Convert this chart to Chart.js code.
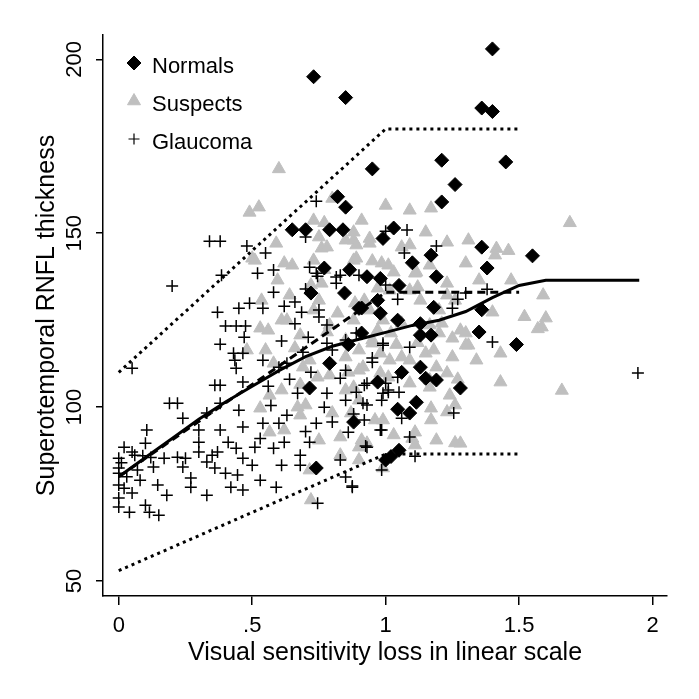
<!DOCTYPE html>
<html>
<head>
    <title>RNFL thickness vs visual sensitivity loss</title>
    <script src="https://cdn.jsdelivr.net/npm/chart.js"></script>
    <style>
        body { margin: 0; background: #fff; }
        canvas { display: block; }
    </style>
</head>
<body>
    <canvas id="chart" width="699" height="699"></canvas>

    <script>
    // tick positions and labels
    const xTickValues = [0, 0.5, 1, 1.5, 2];
    const xTickLabels = ['0', '.5', '1', '1.5', '2'];
    const yTickValues = [50, 100, 150, 200];

    // group values, [sensitivity loss, thickness]
    const normals = [
        [0.73,195],[0.85,189],[1.40,203],[1.36,186],[1.40,185],[1.45,170.5],[0.95,168.5],[1.21,171],
        [1.26,164],[1.21,159],[0.82,160.5],[0.85,157.5],[0.65,151],[0.70,151],[0.79,151],[0.84,151],
        [1.03,151.5],[0.99,148.5],[1.17,143.7],[1.10,141.5],[1.19,137.5],[0.77,140],[0.93,137.5],[1.05,135],
        [0.865,139.5],[1.36,146],[1.38,140],[1.55,143.5],[0.91,128.5],[0.98,127],[1.045,125],[1.18,128.7],
        [1.36,128],[0.91,121.3],[1.13,124],[1.13,120.7],[1.17,120.7],[1.35,121.6],[1.49,118],[1.13,111.5],
        [1.15,108.3],[1.19,107.8],[1.28,105.5],[1.045,99.4],[1.09,98.3],[1.115,101.4],[0.88,95.7],[1.05,87.6],
        [1.0,84.8],[0.97,107.2],[0.846,132.8],[0.72,132.8],[0.97,130.7],[0.90,128.4],[0.79,112.6],[0.715,105.5],
        [0.74,82.5],[1.02,85.8],[0.98,137],[1.06,110],[0.86,118]
    ];
    const suspects = [
        [0.60,168.5],[0.49,156],[0.525,157.5],[0.80,160],[0.77,153],[0.91,153.7],[1.0,158],[1.09,156.6],
        [1.17,157.2],[1.69,153],[1.415,145.6],[1.46,145],[1.47,136.5],[1.59,132.2],[1.60,125.6],[1.585,123],
        [1.43,115.5],[1.43,107.2],[1.66,104.8],[1.25,114.4],[1.34,113.5],[1.30,121.3],[1.40,127.3],[1.23,132.2],
        [1.30,141.4],[1.23,147.4],[1.06,146],[0.95,142],[1.17,99.7],[1.23,98.6],[1.26,100.6],[1.17,96.3],
        [1.19,90.5],[1.28,89.6],[1.11,92.8],[1.10,91],[0.99,82.5],[0.91,90.5],[0.90,88.5],[0.72,73.3],
        [0.715,81.9],[0.53,99.7],[0.565,92.8],[0.70,100.6],[0.67,100],[0.80,98.3],[0.87,98.3],[0.83,91.4],
        [0.93,89.6],[0.99,96.3],[0.61,104.9],[0.68,106.5],[0.59,147.1],[0.50,142.8],[0.65,140.8],[0.595,136.5],
        [0.76,145.7],[0.73,153.7],[0.88,148],[0.64,132.2],[0.53,122.7],[0.56,122.1],[0.63,125],[0.73,127.9],
        [0.78,121.6],[0.88,125],[0.95,119.3],[0.69,111.5],[0.745,108.6],[0.85,114.4],[0.90,110.6],[0.98,115.5],
        [0.48,116.4],[0.58,112.6],[1.01,108.6],[0.88,150.3],[0.94,147.1],[0.89,142.8],[0.985,141.4],[1.03,138.8],
        [1.115,138.8],[1.165,140.8],[1.23,135.6],[0.885,129.9],[0.94,127.9],[0.99,125],[0.97,122.1],[1.02,121.3],
        [1.06,124.1],[1.165,123.6],[1.20,121.3],[1.21,124.1],[1.25,119.8],[1.30,117.8],[0.90,116.4],[0.95,118.4],
        [1.015,113.5],[1.06,114.4],[1.15,115.5],[1.18,116.4],[1.19,111.5],[1.23,109.8],[0.915,111.5],[0.98,109.8],
        [1.09,106.9],[1.165,105.7],[0.88,105.7],[0.75,148.9],[0.78,146],[0.85,148],[0.89,146.6],[0.94,148.5],
        [1.09,146.6],[1.15,150.3],[0.62,141.4],[0.73,142.2],[0.77,139.5],[0.88,142.2],[1.01,140.8],[1.11,138.5],
        [0.72,135.1],[0.76,135.6],[0.97,134.2],[1.09,133.6],[1.12,134.5],[1.52,126],[1.57,122.5],[1.26,89.7],
        [0.51,142.2],[0.535,130.7],[0.61,125],[0.68,120.7],[0.55,116.4],[0.75,130.7],[0.79,123.6],[0.85,119.3],
        [0.715,113.5],[0.79,109.2],[0.85,104.9],[0.90,102],[0.96,96.3],[1.03,92],[1.11,89.1],[0.68,97.7],
        [0.62,93.4],[0.75,90.5],[0.83,86.2],[0.90,84.8],[1.13,130.7],[1.20,127.9],[1.28,122.1],[1.31,117.8],
        [1.26,130.7],[1.35,136.5],[1.41,143.7],[1.31,148],[0.92,130.7],[1.015,133.6],[1.09,113.5],[1.165,107.8],
        [1.24,103.4],[0.565,103.4],[0.66,117],[0.82,127],[0.86,110],[1.04,118],[1.12,118.5],[1.27,108]
    ];
    const glaucoma = [
        [0.05,111.2],[0.20,134.8],[0.34,147.7],[0.38,147.7],[0.48,146.3],[0.55,144.3],[0.385,137.9],[0.52,138.5],
        [0.58,139.4],[0.715,140.2],[0.74,138.5],[0.58,133],[0.37,127.3],[0.45,128.4],[0.49,129.9],[0.54,128.4],
        [0.66,130.2],[0.685,127.3],[0.40,123.3],[0.44,123.3],[0.475,123.3],[0.47,120.1],[0.38,118.1],[0.43,115.5],
        [0.465,115.5],[0.435,113.5],[0.44,111.2],[0.54,113.5],[0.36,106.3],[0.38,106.3],[0.465,107.2],[0.60,111.5],
        [0.63,112.6],[0.69,115.8],[0.71,120.1],[0.75,125.9],[0.78,123.6],[0.83,137.9],[0.75,127.9],[0.78,118.4],
        [0.80,116.4],[0.85,119.3],[0.89,121.3],[0.95,114.1],[0.99,118.4],[0.83,108.3],[0.85,110.6],[0.92,106.3],
        [1.0,106.9],[0.19,101.1],[0.22,101.1],[0.24,96.8],[0.105,93.4],[0.10,89.6],[0.02,88.5],[0.05,87.1],
        [0.06,86.2],[0.0,85.3],[0.0,82.5],[0.0,81.0],[0.0,77.6],[0.02,76.7],[0.05,75.3],[0.0,73.9],
        [0.0,71.3],[0.04,69.8],[0.10,71.8],[0.115,69.8],[0.15,68.9],[0.08,79],[0.07,81.9],[0.146,77.6],
        [0.18,74.7],[0.13,82.8],[0.17,85.3],[0.22,85.6],[0.25,85.3],[0.24,82.8],[0.27,79.6],[0.27,77.0],
        [0.33,74.7],[0.30,93.4],[0.30,89.9],[0.30,87.1],[0.33,84.2],[0.35,86.2],[0.37,87.1],[0.36,82.5],
        [0.40,81],[0.38,93.4],[0.41,89.9],[0.44,88.2],[0.465,85.3],[0.445,80.5],[0.42,77],[0.465,76.2],
        [0.50,83.3],[0.53,79],[0.59,77],[0.51,88.5],[0.53,91],[0.58,88.2],[0.62,89.9],[0.61,83.3],
        [0.68,83.3],[0.68,86.2],[0.715,89.9],[0.54,95.4],[0.60,95.4],[0.63,97.7],[0.45,99.1],[0.465,94.3],
        [0.33,98.3],[0.38,101.1],[0.83,84.8],[0.85,79.9],[0.875,77],[0.745,72.4],[0.67,104],[0.78,104],
        [0.85,102],[0.915,101.1],[0.74,95.4],[0.80,95.7],[0.92,96.3],[0.86,92.8],[0.98,93.4],[0.93,88.5],
        [0.99,104],[0.93,100.6],[0.985,102],[1.06,96.8],[0.985,93.4],[1.09,91.4],[0.925,88.8],[1.255,98.3],
        [1.11,85.9],[1.02,85.9],[0.985,81.9],[0.875,77.3],[0.89,104.3],[1.01,104.3],[1.05,104.3],[1.08,150.9],
        [1.19,146.3],[1.07,144.3],[1.0,135.1],[1.045,131],[1.27,131],[1.30,132.8],[1.38,133.9],[1.25,128.4],
        [1.09,117.2],[0.99,117.8],[1.40,118.7],[0.95,112.9],[1.045,108.6],[0.93,106.9],[1.01,104.9],[1.945,109.8],
        [0.90,137.9],[0.74,159.2],[0.70,148.9],[1.0,150.6],[0.745,137.6],[0.815,137.4],[0.815,135.6],[0.70,134],
        [0.01,84],[0.03,80],[0.09,86],[0.12,85.5],[0.56,106],[0.64,108],[0.72,110],[0.66,124],
        [0.61,119],[0.57,100.5],[0.70,93],[0.77,100],[0.88,98],[0.62,129]
    ];

    // fitted lines
    const upperX = [0, 1, 1.5];
    const upperY = [110, 180, 180];
    const lowerX = [0, 1, 1.5];
    const lowerY = [53, 86.5, 86.5];
    const brokenX = [0, 1, 1.5];
    const brokenY = [80, 133, 133];
    const smoothX = [0, 0.1, 0.2, 0.3, 0.4, 0.5, 0.6, 0.7, 0.8, 0.9, 1.0, 1.1, 1.2, 1.3, 1.4, 1.5, 1.6, 1.95];
    const smoothY = [80, 85.5, 91, 96.5, 101.5, 106, 110.5, 114.5, 117.5, 119.5, 121.5, 123.5, 125, 127.5, 131.5, 135, 136.5, 136.5];

    function pts(pairs) {
        return pairs.map(p => ({ x: p[0], y: p[1] }));
    }
    function linePts(xs, ys) {
        return xs.map((x, i) => ({ x: x, y: ys[i] }));
    }

    const FONT = '"Liberation Sans", Arial, sans-serif';

    function lineSet(label, xs, ys, dash) {
        return {
            label: label,
            data: linePts(xs, ys),
            showLine: true,
            borderColor: '#000',
            borderWidth: 3,
            borderDash: dash,
            pointRadius: 0,
            fill: false,
            tension: 0,
            order: 0,
            inLegend: false
        };
    }

    // legend drawn inside the plot, top left
    const cornerLegend = {
        id: 'cornerLegend',
        afterDraw(chart) {
            const ctx = chart.ctx;
            const area = chart.chartArea;
            ctx.save();
            ctx.font = '22px ' + FONT;
            ctx.fillStyle = '#000';
            ctx.textBaseline = 'alphabetic';
            let row = 0;
            chart.data.datasets.forEach(ds => {
                if (!ds.inLegend) return;
                const base = area.top + 38 + row * 38;
                const symX = area.left + 31;
                ctx.save();
                ctx.fillStyle = ds.pointBackgroundColor;
                ctx.strokeStyle = ds.pointBorderColor;
                ctx.lineWidth = ds.legendBorder;
                Chart.helpers.drawPoint(ctx, {
                    pointStyle: ds.pointStyle,
                    radius: ds.legendRadius,
                    rotation: 0,
                    borderWidth: ds.legendBorder
                }, symX, base - 10);
                ctx.restore();
                ctx.fillText(ds.label, area.left + 49, base);
                row++;
            });
            ctx.restore();
        }
    };

    new Chart(document.getElementById('chart').getContext('2d'), {
        type: 'scatter',
        data: {
            datasets: [
                lineSet('Upper', upperX, upperY, [3, 4]),
                lineSet('Lower', lowerX, lowerY, [3, 4]),
                lineSet('Broken stick', brokenX, brokenY, [8, 5]),
                lineSet('Smooth', smoothX, smoothY, []),
                {
                    label: 'Normals',
                    data: pts(normals),
                    pointStyle: 'rectRot',
                    pointRadius: 7,
                    pointBackgroundColor: '#000',
                    pointBorderColor: '#000',
                    pointBorderWidth: 1,
                    legendRadius: 7,
                    legendBorder: 1,
                    order: 1,
                    inLegend: true
                },
                {
                    label: 'Suspects',
                    data: pts(suspects),
                    pointStyle: 'triangle',
                    pointRadius: 7.5,
                    pointBackgroundColor: '#bfbfbf',
                    pointBorderColor: '#bfbfbf',
                    pointBorderWidth: 1,
                    legendRadius: 7.5,
                    legendBorder: 1,
                    order: 3,
                    inLegend: true
                },
                {
                    label: 'Glaucoma',
                    data: pts(glaucoma),
                    pointStyle: 'cross',
                    pointRadius: 6,
                    pointBackgroundColor: '#000',
                    pointBorderColor: '#000',
                    pointBorderWidth: 1.5,
                    legendRadius: 5.5,
                    legendBorder: 1.2,
                    order: 2,
                    inLegend: true
                }
            ]
        },
        options: {
            responsive: false,
            animation: false,
            devicePixelRatio: 1,
            layout: { padding: { top: 35, right: 32, left: 0, bottom: 0 } },
            plugins: {
                legend: { display: false },
                tooltip: { enabled: false }
            },
            elements: { point: { hoverRadius: 0 } },
            scales: {
                x: {
                    type: 'linear',
                    min: -0.059,
                    max: 2.054,
                    afterBuildTicks: s => { s.ticks = xTickValues.map(v => ({ value: v })); },
                    afterFit: s => { s.height = 103; },
                    border: { display: true, color: '#000', width: 1.5 },
                    grid: { drawOnChartArea: false, drawTicks: true, tickLength: 9, color: '#000', lineWidth: 1.5 },
                    ticks: {
                        color: '#000',
                        font: { family: FONT, size: 22 },
                        padding: 8,
                        maxRotation: 0,
                        callback: (v, i) => xTickLabels[i]
                    },
                    title: {
                        display: true,
                        text: 'Visual sensitivity loss in linear scale',
                        color: '#000',
                        font: { family: FONT, size: 25 },
                        padding: { top: 0, bottom: 31 }
                    }
                },
                y: {
                    type: 'linear',
                    min: 45.7,
                    max: 207,
                    afterBuildTicks: s => { s.ticks = yTickValues.map(v => ({ value: v })); },
                    afterFit: s => { s.width = 103; },
                    border: { display: true, color: '#000', width: 1.5 },
                    grid: { drawOnChartArea: false, drawTicks: true, tickLength: 7, color: '#000', lineWidth: 1.5 },
                    ticks: {
                        color: '#000',
                        font: { family: FONT, size: 22 },
                        padding: 3,
                        minRotation: 90,
                        maxRotation: 90,
                        crossAlign: 'center'
                    },
                    title: {
                        display: true,
                        text: 'Superotemporal RNFL thickness',
                        color: '#000',
                        font: { family: FONT, size: 25 },
                        padding: { top: 32, bottom: 0 }
                    }
                }
            }
        },
        plugins: [cornerLegend]
    });
    </script>
</body>
</html>
